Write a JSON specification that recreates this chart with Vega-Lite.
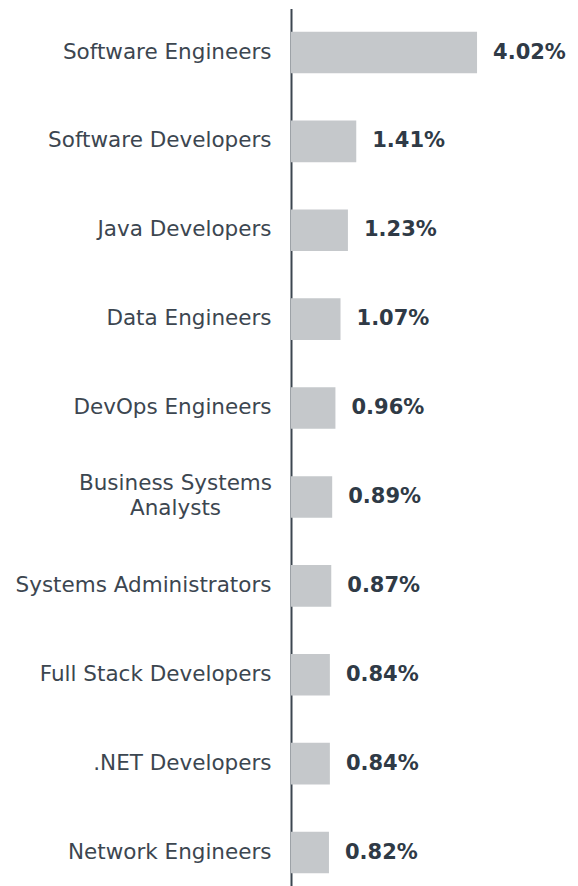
{
  "$schema": "https://vega.github.io/schema/vega-lite/v6.json",
  "autosize": {"type": "none"},
  "width": 280,
  "height": 888,
  "padding": {"left": 291, "top": 8.5, "right": 7, "bottom": 0},
  "background": "white",
  "config": {"view": {"stroke": null}, "font": "DejaVu Sans"},
  "data": {"values": [
    {"role": "Software Engineers", "pct": 4.02, "label": "4.02%"},
    {"role": "Software Developers", "pct": 1.41, "label": "1.41%"},
    {"role": "Java Developers", "pct": 1.23, "label": "1.23%"},
    {"role": "Data Engineers", "pct": 1.07, "label": "1.07%"},
    {"role": "DevOps Engineers", "pct": 0.96, "label": "0.96%"},
    {"role": "Business Systems Analysts", "pct": 0.89, "label": "0.89%"},
    {"role": "Systems Administrators", "pct": 0.87, "label": "0.87%"},
    {"role": "Full Stack Developers", "pct": 0.84, "label": "0.84%"},
    {"role": ".NET Developers", "pct": 0.84, "label": "0.84%"},
    {"role": "Network Engineers", "pct": 0.82, "label": "0.82%"}
  ]},
  "encoding": {
    "y": {
      "field": "role", "type": "nominal", "sort": null,
      "scale": {"paddingInner": 0.532, "paddingOuter": 0.261},
      "axis": {
        "title": null, "ticks": false, "domain": true, "domainColor": "#3c4650", "domainWidth": 2,
        "labelFont": "DejaVu Sans", "labelFontSize": 21.5, "labelColor": "#3c4650",
        "labelLimit": 400, "labelLineHeight": 25,
        "labelExpr": "datum.value == 'Business Systems Analysts' ? ['Business Systems', 'Analysts'] : datum.value",
        "labelAlign": {"condition": {"test": "datum.value == 'Business Systems Analysts'", "value": "center"}, "value": "right"},
        "labelPadding": {"condition": {"test": "datum.value == 'Business Systems Analysts'", "value": 116}, "value": 20},
        "labelOffset": {"condition": {"test": "datum.value == 'Business Systems Analysts'", "value": -12.5}, "value": 0}
      }
    },
    "x": {"field": "pct", "type": "quantitative", "scale": {"domain": [0, 6.05]}, "axis": null}
  },
  "layer": [
    {"mark": {"type": "bar", "color": "#c5c8cb"}},
    {
      "mark": {"type": "text", "align": "left", "baseline": "middle", "dx": 16, "fontSize": 21, "fontWeight": "bold", "color": "#2f3a46", "font": "DejaVu Sans"},
      "encoding": {"text": {"field": "label", "type": "nominal"}}
    }
  ]
}
